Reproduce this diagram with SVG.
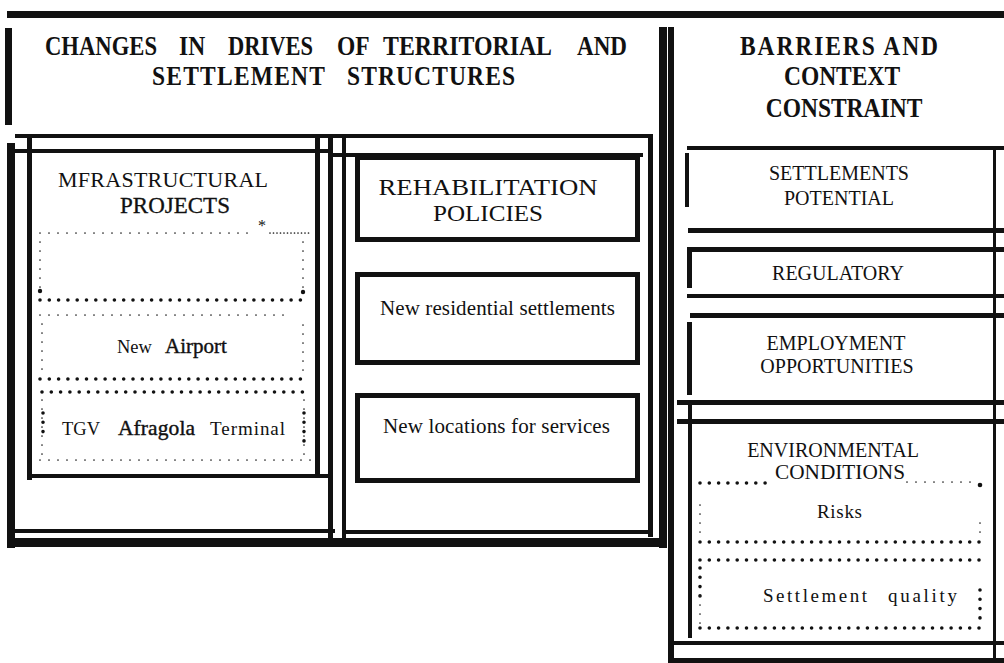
<svg xmlns="http://www.w3.org/2000/svg" width="1004" height="663" viewBox="0 0 1004 663" font-family="'Liberation Serif', 'Times New Roman', serif">
<defs>
<style>
.ln{fill:#111}
.bx{fill:none;stroke:#111;stroke-width:5}
.hd{font-family:'Liberation Serif','Times New Roman',serif;font-weight:bold;font-size:23.5px;fill:#111}
.t{font-family:'Liberation Serif','Times New Roman',serif;fill:#111}
.sp{fill:none;stroke:#222;stroke-width:1.7;stroke-linecap:round;stroke-dasharray:0 9}
.hv{fill:none;stroke:#111;stroke-width:3.6;stroke-linecap:round;stroke-dasharray:0 9.3}
.dn{fill:none;stroke:#222;stroke-width:1.7;stroke-linecap:round;stroke-dasharray:0 3.5}
</style>
</defs>
<rect width="1004" height="663" fill="#fff"/>

<g id="header-drives">
<rect class="ln" x="7" y="11" width="997" height="7"/>
<rect class="ln" x="5" y="28" width="7" height="97"/>
<g transform="translate(0,55) scale(1,1.13)">
<text class="hd" x="45" y="0" textLength="112" lengthAdjust="spacingAndGlyphs">CHANGES</text>
<text class="hd" x="179" y="0">IN</text>
<text class="hd" x="228" y="0" textLength="85" lengthAdjust="spacingAndGlyphs">DRIVES</text>
<text class="hd" x="337" y="0">OF</text>
<text class="hd" x="383" y="0" textLength="169" lengthAdjust="spacingAndGlyphs">TERRITORIAL</text>
<text class="hd" x="577" y="0" textLength="50" lengthAdjust="spacingAndGlyphs">AND</text>
</g>
<g transform="translate(0,85) scale(1,1.13)">
<text class="hd" x="152" y="0" textLength="173" lengthAdjust="spacing">SETTLEMENT</text>
<text class="hd" x="347" y="0" textLength="168" lengthAdjust="spacing">STRUCTURES</text>
</g>
</g>

<g id="header-barriers">
<g transform="translate(0,55) scale(1,1.13)">
<text class="hd" x="839" y="0" text-anchor="middle" font-size="24.5" textLength="198" lengthAdjust="spacing">BARRIERS AND</text>
</g>
<g transform="translate(0,85) scale(1,1.13)">
<text class="hd" x="842" y="0" text-anchor="middle" font-size="24.5">CONTEXT</text>
</g>
<g transform="translate(0,117) scale(1,1.13)">
<text class="hd" x="844" y="0" text-anchor="middle" font-size="24.5">CONSTRAINT</text>
</g>
</g>

<g id="frame-drives">
<rect class="ln" x="15" y="134" width="638" height="4"/>
<rect class="ln" x="15" y="149" width="318" height="4"/>
<rect class="ln" x="7" y="143" width="8" height="405"/>
<rect class="ln" x="27" y="134" width="5" height="346"/>
<rect class="ln" x="315" y="134" width="5" height="342"/>
<rect class="ln" x="328" y="134" width="5" height="404"/>
<rect class="ln" x="27" y="474" width="303" height="4"/>
<rect class="ln" x="15" y="529" width="320" height="4"/>
<rect class="ln" x="7" y="538" width="660" height="9"/>
<rect class="ln" x="342" y="134" width="4" height="404"/>
<rect class="ln" x="648" y="134" width="5" height="403"/>
<rect class="ln" x="333" y="153" width="310" height="4"/>
<rect class="ln" x="342" y="530" width="311" height="4"/>
<rect class="ln" x="659" y="27" width="8" height="521"/>
</g>

<g id="node-infrastructural">
<text class="t" x="58" y="187" font-size="22" textLength="210" lengthAdjust="spacing">MFRASTRUCTURAL</text>
<text class="t" x="175" y="213" font-size="23" text-anchor="middle" stroke="#111" stroke-width="0.3">PROJECTS</text>
<text class="t" x="262" y="231" font-size="16" text-anchor="middle">*</text>
<path class="sp" d="M40 233H256"/>
<path class="dn" d="M270 233H312"/>
<path class="sp" d="M40 242V288M303 242V288"/>
<path class="hv" d="M40 300H305"/>
<circle cx="40" cy="291" r="2.2" fill="#111"/>
<circle cx="303" cy="292" r="2.2" fill="#111"/>
</g>

<g id="node-airport">
<path class="sp" d="M40 315H292"/>
<path class="sp" d="M42 324V372M303 325V372"/>
<path class="hv" d="M40 379H305"/>
<text class="t" x="117" y="353" font-size="18.5">New</text>
<text class="t" x="165" y="353" font-size="21" stroke="#111" stroke-width="0.4">Airport</text>
</g>

<g id="node-tgv">
<path class="hv" d="M42 392H305"/>
<path class="sp" d="M42 400V460M304 400V460"/>
<path class="hv" d="M43 413V440M304 413V445"/>
<path class="sp" d="M40 460H312"/>
<text class="t" x="62" y="435" font-size="18.5" textLength="38" lengthAdjust="spacing">TGV</text>
<text class="t" x="118" y="435" font-size="21.5" textLength="77" lengthAdjust="spacing" stroke="#111" stroke-width="0.4">Afragola</text>
<text class="t" x="210" y="435" font-size="19" textLength="75" lengthAdjust="spacing">Terminal</text>
</g>

<g id="node-rehabilitation">
<rect class="bx" x="357.5" y="157.5" width="280" height="82"/>
<text class="t" x="488" y="195" font-size="23" text-anchor="middle" textLength="219" lengthAdjust="spacingAndGlyphs">REHABILITATION</text>
<text class="t" x="488" y="221" font-size="23" text-anchor="middle" textLength="110" lengthAdjust="spacingAndGlyphs">POLICIES</text>
</g>

<g id="node-residential">
<rect class="bx" x="357.5" y="274.5" width="280" height="88"/>
<text class="t" x="380" y="315" font-size="21" textLength="235" lengthAdjust="spacing">New residential settlements</text>
</g>

<g id="node-services">
<rect class="bx" x="357.5" y="395.5" width="280" height="85"/>
<text class="t" x="383" y="433" font-size="21" textLength="227" lengthAdjust="spacing">New locations for services</text>
</g>

<g id="frame-barriers">
<rect class="ln" x="668" y="27" width="6" height="636"/>
<rect class="ln" x="993" y="146" width="3" height="517"/>
<rect class="ln" x="687" y="146" width="317" height="4"/>
<rect class="ln" x="688" y="228" width="316" height="5"/>
<rect class="ln" x="687" y="247" width="317" height="5"/>
<rect class="ln" x="687" y="294" width="317" height="4"/>
<rect class="ln" x="690" y="313" width="314" height="5"/>
<rect class="ln" x="677" y="400" width="327" height="5"/>
<rect class="ln" x="677" y="419" width="327" height="5"/>
<rect class="ln" x="670" y="641" width="334" height="4"/>
<rect class="ln" x="670" y="658" width="334" height="5"/>
<rect class="ln" x="685" y="153" width="4" height="54"/>
<rect class="ln" x="687" y="252" width="5" height="36"/>
<rect class="ln" x="687" y="322" width="5" height="73"/>
<rect class="ln" x="688" y="405" width="4" height="233"/>
</g>

<g id="node-settlements-potential">
<text class="t" x="839" y="180" font-size="20" text-anchor="middle">SETTLEMENTS</text>
<text class="t" x="839" y="205" font-size="20" text-anchor="middle">POTENTIAL</text>
</g>

<g id="node-regulatory">
<text class="t" x="838" y="280" font-size="20" text-anchor="middle">REGULATORY</text>
</g>

<g id="node-employment">
<text class="t" x="836" y="350" font-size="20" text-anchor="middle">EMPLOYMENT</text>
<text class="t" x="837" y="373" font-size="20" text-anchor="middle">OPPORTUNITIES</text>
</g>

<g id="node-environmental">
<text class="t" x="833" y="457" font-size="20" text-anchor="middle">ENVIRONMENTAL</text>
<text class="t" x="840" y="479" font-size="20" text-anchor="middle" textLength="130" lengthAdjust="spacingAndGlyphs">CONDITIONS</text>
<path class="hv" d="M700 483H772"/>
<path class="sp" d="M907 482H975"/>
<circle cx="980" cy="485" r="2.3" fill="#111"/>
</g>

<g id="node-risks">
<path class="sp" d="M700 505V535M980 523V538"/>
<path class="hv" d="M700 542H980"/>
<text class="t" x="817" y="518" font-size="19" textLength="45" lengthAdjust="spacing">Risks</text>
</g>

<g id="node-settlement-quality">
<path class="hv" d="M700 560H980"/>
<path class="hv" d="M700 568V596M980 590V625"/>
<path class="sp" d="M700 596V625"/>
<path class="hv" d="M700 628H980"/>
<text class="t" x="763" y="602" font-size="19" textLength="104" lengthAdjust="spacing">Settlement</text>
<text class="t" x="888" y="602" font-size="19" textLength="69" lengthAdjust="spacing">quality</text>
</g>

<g id="connectors"></g>
</svg>
